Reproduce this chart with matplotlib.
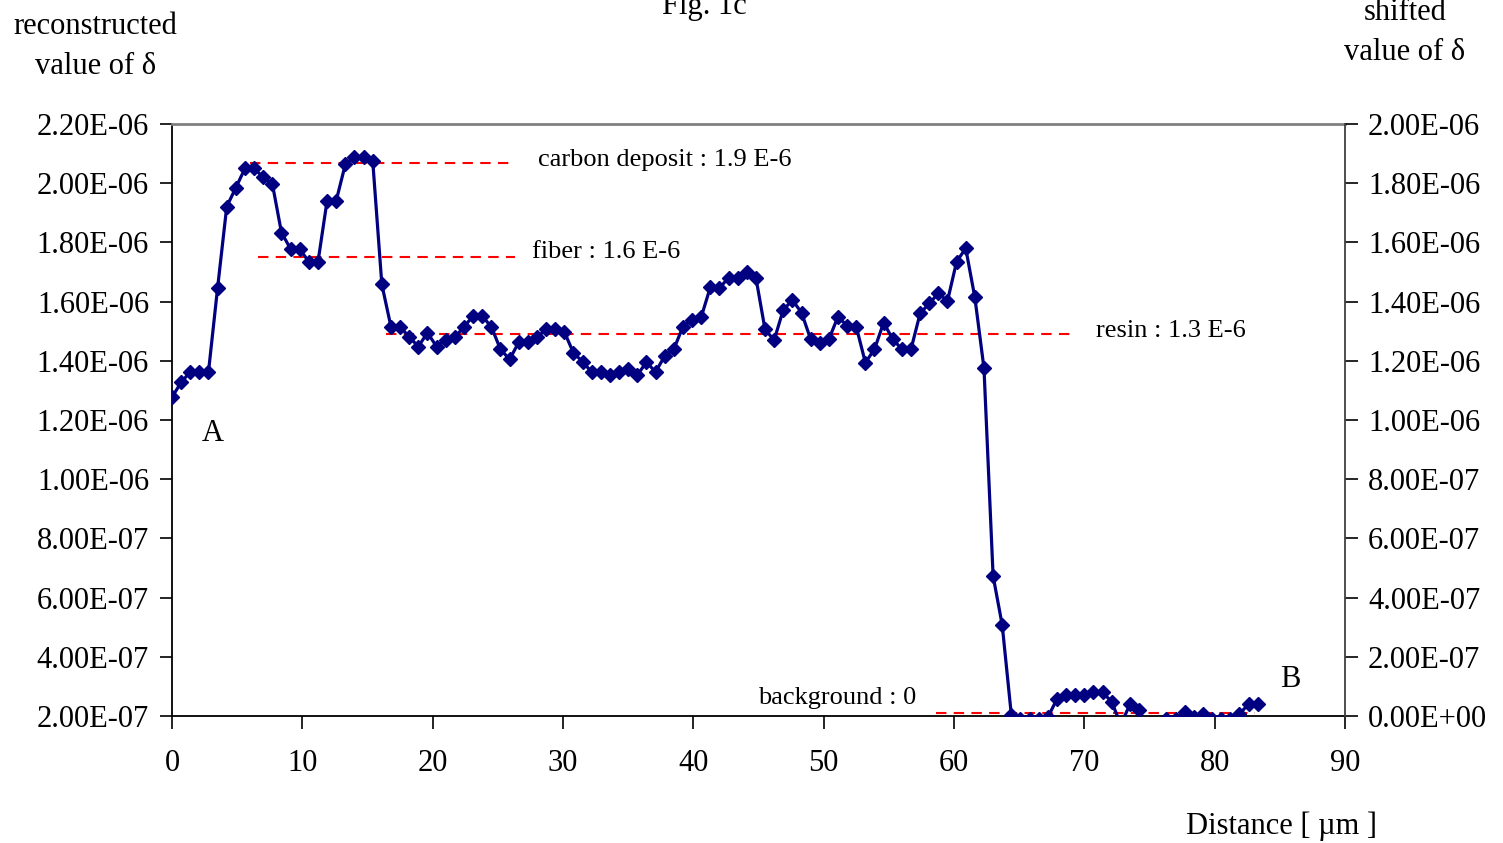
import numpy as np
import matplotlib
matplotlib.use("Agg")
import matplotlib.pyplot as plt
from matplotlib.ticker import FormatStrFormatter, MultipleLocator

plt.rcParams['font.family'] = ['Liberation Serif', 'DejaVu Serif']

# reconstructed delta (in units of 1E-6), sampled every 0.7 um
delta_e6 = [
    1.277, 1.327, 1.363, 1.363, 1.363, 1.647, 1.921, 1.985, 2.050, 2.050,
    2.020, 1.998, 1.833, 1.778, 1.778, 1.734, 1.734, 1.941, 1.941, 2.064,
    2.087, 2.087, 2.076, 1.658, 1.515, 1.515, 1.481, 1.448, 1.495, 1.448,
    1.470, 1.479, 1.515, 1.551, 1.551, 1.515, 1.439, 1.405, 1.462, 1.462,
    1.479, 1.506, 1.506, 1.498, 1.427, 1.397, 1.362, 1.362, 1.351, 1.362,
    1.373, 1.351, 1.396, 1.362, 1.416, 1.439, 1.515, 1.538, 1.547, 1.648,
    1.645, 1.681, 1.681, 1.701, 1.681, 1.506, 1.470, 1.572, 1.605, 1.563,
    1.473, 1.459, 1.473, 1.549, 1.518, 1.515, 1.394, 1.439, 1.529, 1.473,
    1.439, 1.439, 1.560, 1.594, 1.628, 1.602, 1.735, 1.780, 1.614, 1.375,
    0.673, 0.507, 0.203, 0.190, 0.190, 0.190, 0.196, 0.257, 0.271, 0.271,
    0.271, 0.280, 0.280, 0.248, 0.170, 0.240, 0.220, 0.120, 0.120, 0.190,
    0.190, 0.215, 0.195, 0.208, 0.190, 0.190, 0.190, 0.207, 0.240, 0.240,
]
step_um = 0.7
distance = np.round(np.arange(len(delta_e6)) * step_um, 2)
delta = np.array(delta_e6) * 1e-6

# reference levels: label, level, line start/end, label position
ref_labels = ["carbon deposit : 1.9 E-6", "fiber : 1.6 E-6", "resin : 1.3 E-6", "background : 0"]
ref_levels = [2.068e-6, 1.751e-6, 1.490e-6, 0.210e-6]
ref_x0 = [6.0, 6.6, 16.4, 58.6]
ref_x1 = [26.3, 26.3, 68.9, 83.1]
ref_text_x = [28.1, 27.6, 70.9, 45.0]
ref_text_y = [2.078e-6, 1.768e-6, 1.501e-6, 0.261e-6]

fs = 22

fig = plt.figure(figsize=(15.03, 8.43), dpi=100)
ax = fig.add_axes([172/1503, 1-716/843, (1345-172)/1503, (716-124)/843])

ax.plot(distance, delta, color='#000080', lw=2.3, marker='D', ms=7.5, zorder=3)

for lab, lv, x0, x1, tx, ty in zip(ref_labels, ref_levels, ref_x0, ref_x1, ref_text_x, ref_text_y):
    ax.plot([x0, x1], [lv, lv], color='red', lw=1.5, ls=(0, (5, 3.5)), zorder=2)
    ax.text(tx, ty, lab, fontsize=19, va='center', ha='left')

ax.text(3.1, 1.156e-6, "A", fontsize=fs, ha='center', va='center')
ax.text(85.8, 0.322e-6, "B", fontsize=fs, ha='center', va='center')

ax.set_xlim(0, 90)
ax.set_ylim(2.0e-7, 2.2e-6)
ax.xaxis.set_major_locator(MultipleLocator(10))
ax.yaxis.set_major_locator(MultipleLocator(2e-7))
ax.yaxis.set_major_formatter(FormatStrFormatter('%.2E'))
ax.tick_params(axis='both', direction='out', length=9, width=1.2, labelsize=fs, colors='black')
ax.tick_params(axis='y', pad=7.5)
ax.tick_params(axis='x', pad=14.5)

for s in ['left', 'bottom']:
    ax.spines[s].set_color('black')
    ax.spines[s].set_linewidth(1.3)
ax.spines['top'].set_color('#808080')
ax.spines['top'].set_linewidth(2.0)
ax.spines['right'].set_visible(False)

ax2 = ax.twinx()
ax2.set_ylim(0, 2.0e-6)
ax2.yaxis.set_major_locator(MultipleLocator(2e-7))
ax2.yaxis.set_major_formatter(FormatStrFormatter('%.2E'))
ax2.tick_params(axis='y', direction='out', length=9, width=1.2, labelsize=fs, pad=7.5)
for s in ['left', 'bottom', 'top']:
    ax2.spines[s].set_visible(False)
ax2.spines['right'].set_color('#404040')
ax2.spines['right'].set_linewidth(1.3)

# title sits partly above the top edge, as in the original scan
fig.text(704/1503, 1-14/843, "Fig. 1c", fontsize=fs, ha='center', va='baseline')
fig.text(95/1503, 1-27/843, "reconstructed", fontsize=fs, ha='center', va='center')
fig.text(96/1503, 1-66/843, "value of δ", fontsize=fs, ha='center', va='center')
fig.text(1405/1503, 1-13/843, "shifted", fontsize=fs, ha='center', va='center')
fig.text(1405/1503, 1-53/843, "value of δ", fontsize=fs, ha='center', va='center')
fig.text(1282/1503, 1-826/843, "Distance [ µm ]", fontsize=fs, ha='center', va='center')

fig.savefig("out.png", dpi=100)
